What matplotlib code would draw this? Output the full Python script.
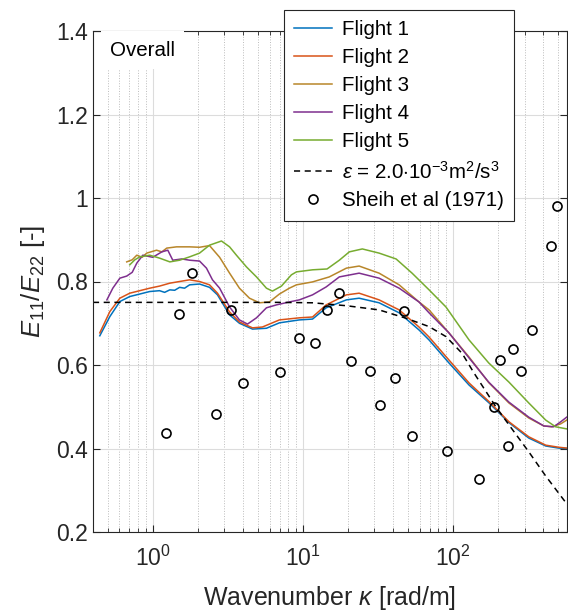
import numpy as np
import matplotlib
matplotlib.use("Agg")
import matplotlib.pyplot as plt
from matplotlib.ticker import LogLocator, NullFormatter, FuncFormatter, FixedLocator

plt.rcParams['font.family'] = ['Liberation Sans', 'DejaVu Sans']
plt.rcParams['mathtext.fontset'] = 'custom'
plt.rcParams['mathtext.rm'] = 'Liberation Sans'
plt.rcParams['mathtext.it'] = 'Liberation Sans:italic'
plt.rcParams['mathtext.bf'] = 'Liberation Sans:bold'

# wavenumber [rad/m] and E11/E22
k1 = [0.444, 0.518, 0.604, 0.703, 0.820, 0.955, 1.11, 1.20, 1.30, 1.40, 1.51, 1.63, 1.76, 2.05, 2.39,
      2.70, 3.25, 3.78, 4.62, 5.72, 6.98, 9.48, 11.6, 14.3, 19.5, 23.7, 32.2, 43.8, 59.4, 69.3, 94.0,
      128, 173, 236, 320, 415, 506, 572]
f1 = [0.670, 0.716, 0.752, 0.764, 0.770, 0.776, 0.778, 0.774, 0.780, 0.779, 0.786, 0.784, 0.792, 0.794,
      0.786, 0.768, 0.720, 0.700, 0.686, 0.688, 0.701, 0.708, 0.710, 0.737, 0.756, 0.760, 0.749, 0.725,
      0.684, 0.660, 0.605, 0.552, 0.510, 0.462, 0.425, 0.406, 0.401, 0.400]

k2 = [0.444, 0.518, 0.604, 0.703, 0.820, 0.955, 1.11, 1.30, 1.51, 1.76, 2.05, 2.39, 2.70, 3.25, 3.78,
      4.62, 5.38, 6.98, 9.48, 11.6, 14.3, 19.5, 23.7, 32.2, 43.8, 59.4, 69.3, 94.0, 128, 173, 236, 320,
      415, 506, 572]
f2 = [0.677, 0.728, 0.760, 0.772, 0.778, 0.784, 0.789, 0.796, 0.800, 0.804, 0.800, 0.792, 0.772, 0.727,
      0.703, 0.689, 0.691, 0.708, 0.713, 0.715, 0.744, 0.768, 0.772, 0.756, 0.732, 0.691, 0.667, 0.612,
      0.557, 0.513, 0.464, 0.428, 0.408, 0.403, 0.401]

k3 = [0.671, 0.730, 0.783, 0.850, 0.912, 1.06, 1.15, 1.24, 1.44, 1.76, 2.05, 2.39, 2.79, 3.25, 3.78,
      4.41, 5.14, 5.99, 6.98, 8.13, 9.06, 11.6, 15.0, 19.5, 23.7, 32.2, 43.8, 59.4, 69.3, 94.0, 128,
      173, 236, 320, 403, 455, 522, 572]
f3 = [0.847, 0.852, 0.863, 0.858, 0.868, 0.875, 0.871, 0.880, 0.883, 0.883, 0.882, 0.886, 0.858, 0.820,
      0.784, 0.760, 0.749, 0.751, 0.770, 0.784, 0.792, 0.799, 0.811, 0.832, 0.837, 0.820, 0.792, 0.751,
      0.732, 0.677, 0.619, 0.558, 0.509, 0.473, 0.454, 0.452, 0.459, 0.468]

k4 = [0.495, 0.542, 0.604, 0.671, 0.730, 0.783, 0.859, 1.0, 1.15, 1.26, 1.36, 1.56, 1.76, 2.05, 2.28,
      2.50, 2.79, 3.25, 3.78, 4.28, 4.91, 5.72, 6.67, 8.13, 9.48, 11.6, 14.3, 17.5, 23.7, 32.2, 43.8,
      59.4, 69.3, 94.0, 128, 173, 236, 320, 403, 469, 522, 572]
f4 = [0.756, 0.784, 0.808, 0.813, 0.822, 0.844, 0.863, 0.858, 0.871, 0.875, 0.851, 0.854, 0.851, 0.849,
      0.832, 0.804, 0.784, 0.739, 0.708, 0.698, 0.713, 0.737, 0.744, 0.751, 0.756, 0.768, 0.787, 0.811,
      0.820, 0.808, 0.784, 0.751, 0.725, 0.677, 0.617, 0.559, 0.511, 0.475, 0.454, 0.452, 0.464, 0.475]

k5 = [0.703, 0.760, 0.820, 0.955, 1.11, 1.30, 1.51, 1.76, 2.05, 2.39, 2.87, 3.25, 3.61, 4.21, 4.91,
      5.72, 6.27, 7.20, 8.39, 9.06, 11.6, 14.5, 17.5, 20.4, 24.9, 32.2, 41.8, 53.4, 69.3, 89.8, 128, 173,
      236, 320, 415, 483, 572]
f5 = [0.840, 0.852, 0.859, 0.863, 0.856, 0.847, 0.851, 0.859, 0.868, 0.887, 0.897, 0.883, 0.863, 0.835,
      0.811, 0.784, 0.777, 0.789, 0.816, 0.823, 0.828, 0.830, 0.851, 0.871, 0.878, 0.868, 0.854, 0.820,
      0.780, 0.739, 0.660, 0.605, 0.559, 0.509, 0.468, 0.452, 0.447]

# model curve, eps = 2.0e-3 m2/s3
k_model = [0.4, 1.0, 3.0, 6.98, 11.6, 19.5, 32.2, 48.7, 69.3, 89.9, 115, 138, 193, 247, 320, 415, 547, 580]
r_model = [0.750, 0.750, 0.750, 0.750, 0.749, 0.742, 0.732, 0.712, 0.692, 0.668, 0.628, 0.581, 0.500,
           0.447, 0.392, 0.334, 0.277, 0.265]

# Sheih et al (1971)
k_sheih = [1.22, 1.49, 1.84, 2.62, 3.31, 3.98, 7.08, 9.38, 11.98, 14.4, 17.3, 21.0, 27.8, 32.6, 41.0,
           47.5, 53.2, 91.6, 148, 189, 205, 231, 252, 286, 337, 453, 493]
r_sheih = [0.438, 0.722, 0.820, 0.482, 0.732, 0.556, 0.583, 0.664, 0.652, 0.732, 0.772, 0.609, 0.586,
           0.504, 0.569, 0.730, 0.429, 0.395, 0.327, 0.499, 0.611, 0.405, 0.639, 0.586, 0.683, 0.885, 0.982]

labels = ['Flight 1', 'Flight 2', 'Flight 3', 'Flight 4', 'Flight 5']
colors = ['#0072BD', '#D95319', '#B8862A', '#7E2F8E', '#77AC30']

fig = plt.figure(figsize=(5.68, 6.11), dpi=100)
ax = fig.add_axes([93 / 568, 1 - 532 / 611, (567 - 93) / 568, (532 - 31) / 611])

for k, f, c, lab in zip([k1, k2, k3, k4, k5], [f1, f2, f3, f4, f5], colors, labels):
    ax.plot(k, f, color=c, lw=1.1, label=lab)

ax.plot(k_model, r_model, color='black', lw=1.1, ls=(0, (4, 3)),
        label=r'$\epsilon$ = 2.0$\cdot$10$^{-3}$m$^2$/s$^3$')
ax.plot(k_sheih, r_sheih, ls='none', marker='o', ms=6.5, mfc='none', mec='black', mew=1.2,
        label='Sheih et al (1971)')

ax.set_xscale('log')
ax.set_xlim(0.4, 575)
ax.set_ylim(0.2, 1.4)
ax.xaxis.set_major_locator(LogLocator(base=10, numticks=10))
ax.xaxis.set_minor_locator(LogLocator(base=10, subs=np.arange(2, 10), numticks=20))
ax.xaxis.set_minor_formatter(NullFormatter())
ax.yaxis.set_major_locator(FixedLocator([0.2, 0.4, 0.6, 0.8, 1.0, 1.2, 1.4]))
ax.yaxis.set_major_formatter(FuncFormatter(lambda v, p: '%g' % round(v, 2)))

ax.set_axisbelow(True)
ax.grid(which='major', axis='both', color='#dcdcdc', lw=0.8, ls='-')
ax.grid(which='minor', axis='x', color='#bcbcbc', lw=0.7, ls=':')

ax.tick_params(which='both', direction='in', top=True, right=True, color='#262626',
               labelcolor='#262626', labelsize=16.5)
ax.tick_params(which='major', length=5, width=0.8)
ax.tick_params(which='minor', length=3, width=0.6)
ax.tick_params(axis='x', which='major', pad=10)
for s in ax.spines.values():
    s.set_color('#262626')
    s.set_linewidth(0.8)

ax.set_xlabel(r'Wavenumber $\kappa$ [rad/m]', fontsize=18, color='#262626', labelpad=9)
ax.set_ylabel(r'$E_{11}/E_{22}$ [-]', fontsize=18.5, color='#262626', labelpad=7)

ax.text(0.52, 1.354, 'Overall', fontsize=14.8, va='center', ha='left', color='black',
        bbox=dict(boxstyle='square,pad=0.45', facecolor='white', edgecolor='none'), zorder=3)

leg = ax.legend(loc='upper left', bbox_to_anchor=(284 / 568, 1 - 10 / 611),
                bbox_transform=fig.transFigure, borderaxespad=0, fontsize=14.8,
                frameon=True, fancybox=False, edgecolor='#262626', framealpha=1,
                handlelength=1.85, labelspacing=0.44, borderpad=0.5, handletextpad=0.45)
leg.get_frame().set_linewidth(0.8)
leg.set_zorder(5)

fig.savefig('out.png', dpi=100)
